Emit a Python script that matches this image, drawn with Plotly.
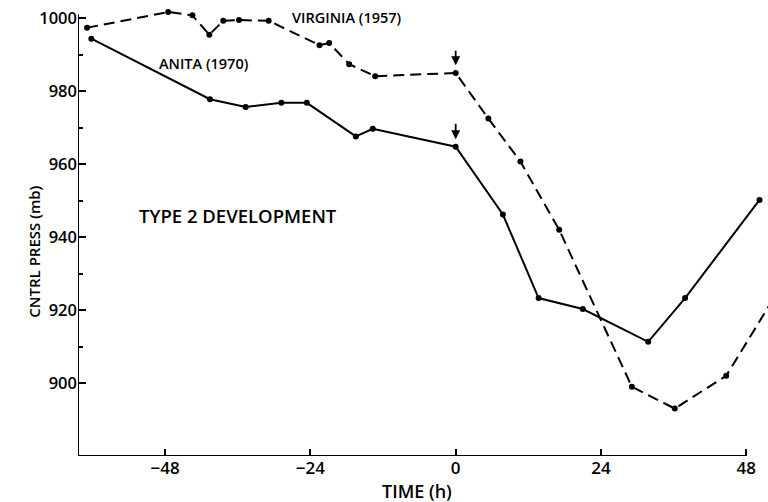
import plotly.graph_objects as go

# central pressure traces
anita_t = [-60.2, -40.6, -34.7, -28.8, -24.6, -16.5, -13.7, 0, 7.8, 13.7, 21.0, 31.8, 37.9, 50.2]
anita_p = [994.4, 977.8, 975.7, 976.8, 976.8, 967.6, 969.7, 964.8, 946.2, 923.3, 920.3, 911.3, 923.3, 950.2]

virginia_t = [-60.9, -47.5, -43.5, -40.7, -38.4, -35.8, -30.9, -22.5, -20.9, -17.6, -13.3,
              0, 5.4, 10.7, 17.1, 29.1, 36.2, 44.7, 54.0]
virginia_p = [997.4, 1001.7, 1000.8, 995.5, 999.3, 999.5, 999.3, 992.6, 993.2, 987.4, 984.1,
              985.0, 972.5, 960.7, 942.0, 899.0, 893.0, 902.0, 927.2]

x_ticks = [-48, -24, 0, 24, 48]
y_ticks = [900, 920, 940, 960, 980, 1000]
y_minor = [910, 930, 950, 970, 990]

FONT = "Open Sans"


def txt(size):
    return dict(family=FONT, size=size, color="black", weight=600)


fig = go.Figure()
fig.add_trace(go.Scatter(x=virginia_t, y=virginia_p, mode="lines+markers",
                         line=dict(color="black", width=2, dash="11px,6px"),
                         marker=dict(color="black", size=6)))
fig.add_trace(go.Scatter(x=anita_t, y=anita_p, mode="lines+markers",
                         line=dict(color="black", width=2),
                         marker=dict(color="black", size=6)))

# axis lines (short of the plot edges, like the original)
fig.add_shape(type="line", x0=-62.4, x1=48, y0=880, y1=880, line=dict(color="black", width=2))
fig.add_shape(type="line", x0=-62.4, x1=-62.4, y0=880, y1=1001, line=dict(color="black", width=2))

# arrows marking t=0
for y_tip, y_tail in [(987.1, 991.5), (966.8, 971.5)]:
    fig.add_annotation(x=0, y=y_tip, ax=0, ay=y_tail, xref="x", yref="y", axref="x", ayref="y",
                       showarrow=True, arrowhead=2, arrowsize=1, arrowwidth=1.8,
                       arrowcolor="black", text="")

fig.add_annotation(x=-18.0, y=1000.3, text="VIRGINIA (1957)", showarrow=False, font=txt(14.5))
fig.add_annotation(x=-41.6, y=987.6, text="ANITA (1970)", showarrow=False, font=txt(14.5))
fig.add_annotation(x=-35.9, y=946.0, text="TYPE 2 DEVELOPMENT", showarrow=False, font=txt(18.5))

# axis titles placed by hand
fig.add_annotation(x=-6.4, y=0, xref="x", yref="paper", yshift=-35, yanchor="middle",
                   text="TIME (h)", showarrow=False, font=txt(18))
fig.add_annotation(x=0, xref="paper", xshift=-56, y=936, yref="y", textangle=-90,
                   text="CNTRL PRESS (mb)", showarrow=False, font=txt(15))

fig.update_xaxes(range=[-62.4, 51.6], tickvals=x_ticks, ticks="inside", ticklen=7,
                 tickwidth=2, tickcolor="black", showline=False, showgrid=False, zeroline=False,
                 automargin=False, tickfont=txt(17))
fig.update_yaxes(range=[880, 1005], tickvals=y_ticks, ticks="inside", ticklen=8,
                 tickwidth=2, tickcolor="black", showline=False, showgrid=False, zeroline=False,
                 automargin=False,
                 minor=dict(tickvals=y_minor, ticks="inside", ticklen=5, tickwidth=1.5,
                            tickcolor="black", showgrid=False),
                 tickfont=txt(16.5))

fig.update_layout(width=768, height=502, showlegend=False,
                  margin=dict(l=78, r=0, t=0, b=46),
                  paper_bgcolor="white", plot_bgcolor="white")

# drop the page's default 8px body margin so the figure fills the window
fig.write_html("out.html", config={"displayModeBar": False},
               post_script="document.body.style.margin='0';")
